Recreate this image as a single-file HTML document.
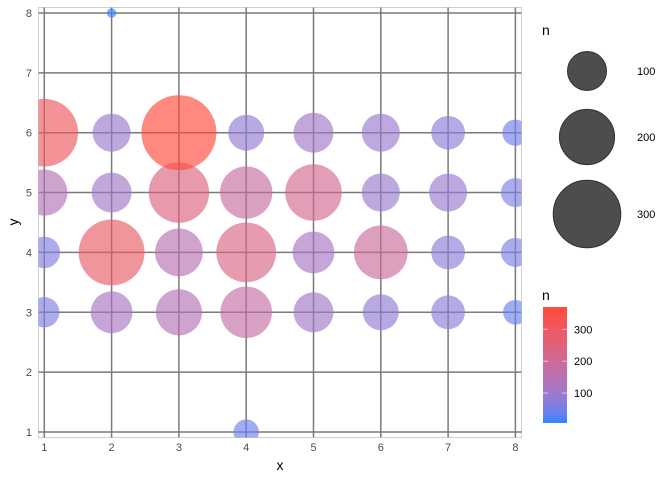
<!DOCTYPE html>
<html><head><meta charset="utf-8"><style>
body{margin:0;background:#fff;font-family:"Liberation Sans",sans-serif}
svg text{font-family:"Liberation Sans",sans-serif}
</style></head><body>
<svg id="chart" width="672" height="480">
<g id="grid"></g><g id="pts"></g><g id="axes"></g><g id="legend"></g>
</svg>
<script>
const xs=[1,2,3,4,5,6,7,8];
const row3=[60,115,140,175,105,85,75,40];
const row4=[65,285,150,235,115,190,75,55];
const row5=[140,105,240,180,210,95,95,55];
const row6=[300,95,370,85,105,95,75,45];
const extraX=[2,4];
const extraY=[8,1];
const extraN=[6,42];
const ticks=[1,2,3,4,5,6,7,8];
const sizeBreaks=[100,200,300];
const colorBreaks=[100,200,300];
const NS="http://www.w3.org/2000/svg";
const X=v=>44.3+(v-1)*67.3, Y=v=>432-(v-1)*59.86;
const R=n=>1.95*Math.sqrt(n);
const nmin=6,nmax=370;
function toLin(c){c/=255;return c<=0.04045?c/12.92:Math.pow((c+0.055)/1.055,2.4);}
function fromLin(c){c=c<=0.0031308?12.92*c:1.055*Math.pow(c,1/2.4)-0.055;return Math.round(Math.max(0,Math.min(1,c))*255);}
function rgb2lab(r){const [R1,G,B]=r.map(toLin);
let x=(0.4124*R1+0.3576*G+0.1805*B)/0.95047,y=0.2126*R1+0.7152*G+0.0722*B,z=(0.0193*R1+0.1192*G+0.9505*B)/1.08883;
const f=t=>t>0.008856?Math.cbrt(t):7.787*t+16/116;const fx=f(x),fy=f(y),fz=f(z);
return [116*fy-16,500*(fx-fy),200*(fy-fz)];}
function lab2rgb([L,a,b]){const fy=(L+16)/116,fx=fy+a/500,fz=fy-b/200;
const g=t=>t**3>0.008856?t**3:(t-16/116)/7.787;const x=g(fx)*0.95047,y=g(fy),z=g(fz)*1.08883;
const r=3.2406*x-1.5372*y-0.4986*z,gg=-0.9689*x+1.8758*y+0.0415*z,bb=0.0557*x-0.2040*y+1.0570*z;
return [fromLin(r),fromLin(gg),fromLin(bb)];}
const LA=rgb2lab([51,133,255]),LB=rgb2lab([255,74,58]);
function col(n){const t=Math.max(0,Math.min(1,(n-nmin)/(nmax-nmin)));
return `rgb(${lab2rgb(LA.map((c,i)=>c+(LB[i]-c)*t)).join(',')})`;}
function mk(tag,at,parent){const e=document.createElementNS(NS,tag);for(const k in at)e.setAttribute(k,at[k]);parent.appendChild(e);return e;}
const g=document.getElementById('grid'),p=document.getElementById('pts'),ax=document.getElementById('axes'),lg=document.getElementById('legend');
let b=mk('rect',{x:38.5,y:7.5,width:483,height:430,fill:'#fff',stroke:'#d0d0d0'},g);


ticks.forEach(t=>{
let l=mk('line',{x1:X(t),x2:X(t),y1:7.5,y2:437.5,stroke:'#7a7a7a','stroke-width':1.5},g);


l=mk('line',{x1:38.5,x2:521.5,y1:Y(t),y2:Y(t),stroke:'#7a7a7a','stroke-width':1.5},g);


let tx=mk('text',{x:X(t),y:451,'font-size':11,fill:'#4d4d4d','text-anchor':'middle'},ax);tx.textContent=t;


tx=mk('text',{x:32,y:Y(t)+4,'font-size':11,fill:'#4d4d4d','text-anchor':'end'},ax);tx.textContent=t;


});
const pts=[];
[[3,row3],[4,row4],[5,row5],[6,row6]].forEach(([y,r])=>xs.forEach((x,i)=>pts.push([x,y,r[i]])));
extraX.forEach((x,i)=>pts.push([x,extraY[i],extraN[i]]));
const clip=mk('clipPath',{id:'cp'},p);mk('rect',{x:38.5,y:7.5,width:483,height:430},clip);
const pg=mk('g',{'clip-path':'url(#cp)'},p);
pts.forEach(([x,y,n])=>{const c=mk('circle',{cx:X(x),cy:Y(y),r:R(n),fill:col(n),'fill-opacity':0.65},pg);

});
let t=mk('text',{x:280,y:470,'font-size':14,fill:'#000','text-anchor':'middle'},ax);t.textContent='x';


t=mk('text',{x:18,y:222,'font-size':14,fill:'#000','text-anchor':'middle',transform:'rotate(-90 18 222)'},ax);t.textContent='y';


t=mk('text',{x:542,y:35,'font-size':14},lg);t.textContent='n';


const cyL=[71,137,214];
sizeBreaks.forEach((s,i)=>{const c=mk('circle',{cx:587,cy:cyL[i],r:R(s),fill:'#4d4d4d',stroke:'#333'},lg);


const tt=mk('text',{x:637,y:cyL[i]+4,'font-size':11,fill:'#000'},lg);tt.textContent=s;

});
t=mk('text',{x:542,y:300,'font-size':14},lg);t.textContent='n';


const defs=mk('defs',{},lg);const gr=mk('linearGradient',{id:'gr',x1:0,y1:1,x2:0,y2:0},defs);
for(let i=0;i<=10;i++){mk('stop',{offset:i/10,'stop-color':col(nmin+(nmax-nmin)*i/10)},gr);}
const cbTop=307,cbBot=423,CY=v=>cbBot-(v-nmin)/(nmax-nmin)*(cbBot-cbTop);
const cb=mk('rect',{x:543,y:cbTop,width:24,height:cbBot-cbTop,fill:'url(#gr)'},lg);


colorBreaks.forEach(v=>{mk('line',{x1:543,x2:548,y1:CY(v),y2:CY(v),stroke:'#fff','stroke-opacity':0.6},lg);
mk('line',{x1:562,x2:567,y1:CY(v),y2:CY(v),stroke:'#fff','stroke-opacity':0.6},lg);
const tt=mk('text',{x:574,y:CY(v)+4,'font-size':11},lg);tt.textContent=v;

});
</script>
</body></html>
